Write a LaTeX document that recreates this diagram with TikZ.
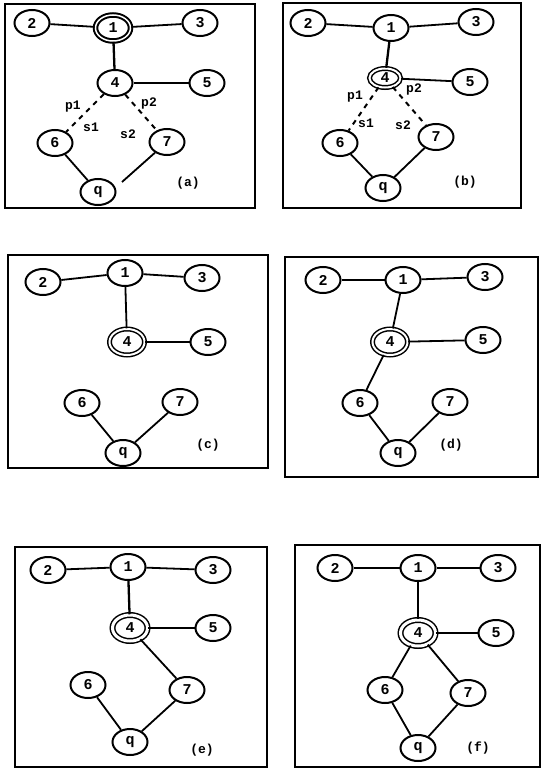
\documentclass[tikz,border=0pt]{standalone}
\usepackage{fontspec}
\setmonofont{Liberation Mono}
\usetikzlibrary{shapes.geometric}
\begin{document}
\begin{tikzpicture}[x=1pt,y=-1pt,
  nd/.style={ellipse, draw, line width=2pt, minimum width=35pt, minimum height=26pt, inner sep=0pt, font=\ttfamily\bfseries\fontsize{15}{15}\selectfont},
  dbl/.style={nd, double, double distance=2pt, line width=1.5pt},
  ed/.style={line width=1.8pt},
  dsh/.style={line width=2pt, dash pattern=on 5pt off 5pt},
  frame/.style={line width=2.8pt},
  lab/.style={font=\ttfamily\bfseries\fontsize{13}{13}\selectfont, inner sep=1pt}]
\useasboundingbox (0,0) rectangle (546,770);
% ---------- (a)
\draw[frame] (5,4) rectangle (255,208);
\node[nd] (a2) at (32,23) {2};
\node[dbl, double distance=1.5pt, line width=2pt] (a1) at (113,28) {1};
\node[nd] (a3) at (200,23) {3};
\node[nd] (a4) at (115,83) {4};
\node[nd] (a5) at (207,83) {5};
\node[nd] (a6) at (55,143) {6};
\node[nd] (a7) at (167,142) {7};
\node[nd] (a9) at (98,192) {q};
\coordinate (a9e) at (122,182);
\node[lab] (al) at (188,183) {(a)};
\node[lab] (ap1) at (73,107) {p1};
\node[lab] (as1) at (91,127) {s1};
\node[lab] (ap2) at (149,104) {p2};
\node[lab] (as2) at (128,134) {s2};
\draw[ed] (a2) -- (a1);
\draw[ed] (a1) -- (a3);
\draw[ed, line width=2.3pt] (a1) -- (a4);
\draw[ed] (a4) -- (a5);
\draw[dsh] (a4) -- (a6);
\draw[dsh] (a4) -- (a7);
\draw[ed] (a6) -- (a9);
\draw[ed] (a7) -- (a9e);
% ---------- (b)
\draw[frame] (283,3) rectangle (521,208);
\node[nd] (b2) at (308,23) {2};
\node[nd] (b1) at (391,28) {1};
\node[nd] (b3) at (476,22) {3};
\node[dbl, minimum width=31pt, minimum height=19pt] (b4) at (385,78) {4};
\node[nd] (b5) at (470,82) {5};
\node[nd] (b6) at (340,143) {6};
\node[nd] (b7) at (436,137) {7};
\node[nd] (b9) at (383,188) {q};
\node[lab] (bl) at (465,182) {(b)};
\node[lab] (bp1) at (355,97) {p1};
\node[lab] (bs1) at (366,123) {s1};
\node[lab] (bp2) at (414,90) {p2};
\node[lab] (bs2) at (403,125) {s2};
\draw[ed] (b2) -- (b1);
\draw[ed] (b1) -- (b3);
\draw[ed, line width=2.3pt] (b1) -- (b4);
\draw[ed] (b4) -- (b5);
\draw[dsh] (b4) -- (b6);
\draw[dsh] (b4) -- (b7);
\draw[ed] (b6) -- (b9);
\draw[ed] (b7) -- (b9);
% ---------- (c)
\draw[frame] (8,255) rectangle (268,468);
\node[nd] (c2) at (43,282) {2};
\node[nd] (c1) at (125,273) {1};
\node[nd] (c3) at (202,278) {3};
\node[dbl] (c4) at (127,342) {4};
\node[nd] (c5) at (208,342) {5};
\node[nd] (c6) at (82,403) {6};
\node[nd] (c7) at (180,402) {7};
\node[nd] (c9) at (123,453) {q};
\node[lab] (cl) at (208,445) {(c)};
\draw[ed] (c2) -- (c1);
\draw[ed] (c1) -- (c3);
\draw[ed] (c1) -- (c4);
\draw[ed] (c4) -- (c5);
\draw[ed] (c6) -- (c9);
\draw[ed] (c7) -- (c9);
% ---------- (d)
\draw[frame] (285,257) rectangle (538,477);
\node[nd] (d2) at (323,280) {2};
\node[nd] (d1) at (403,280) {1};
\node[nd] (d3) at (485,277) {3};
\node[dbl] (d4) at (390,342) {4};
\node[nd] (d5) at (483,340) {5};
\node[nd] (d6) at (360,403) {6};
\node[nd] (d7) at (450,402) {7};
\node[nd] (d9) at (398,453) {q};
\node[lab] (dl) at (451,445) {(d)};
\draw[ed] (d2) -- (d1);
\draw[ed] (d1) -- (d3);
\draw[ed] (d1) -- (d4);
\draw[ed] (d4) -- (d5);
\draw[ed] (d4) -- (d6);
\draw[ed] (d6) -- (d9);
\draw[ed] (d9) -- (d7);
% ---------- (e)
\draw[frame] (15,547) rectangle (267,767);
\node[nd] (e2) at (48,570) {2};
\node[nd] (e1) at (128,567) {1};
\node[nd] (e3) at (213,570) {3};
\node[dbl, double distance=3pt] (e4) at (130,628) {4};
\node[nd] (e5) at (213,628) {5};
\node[nd] (e6) at (88,685) {6};
\node[nd] (e7) at (187,690) {7};
\node[nd] (e9) at (130,742) {q};
\node[lab] (el) at (202,750) {(e)};
\draw[ed] (e2) -- (e1);
\draw[ed] (e1) -- (e3);
\draw[ed, line width=2.3pt] (e1) -- (e4);
\draw[ed] (e4) -- (e5);
\draw[ed] (e4) -- (e7);
\draw[ed] (e6) -- (e9);
\draw[ed] (e9) -- (e7);
% ---------- (f)
\draw[frame] (295,545) rectangle (540,767);
\node[nd] (f2) at (335,568) {2};
\node[nd] (f1) at (418,568) {1};
\node[nd] (f3) at (498,568) {3};
\node[dbl, double distance=3pt] (f4) at (418,633) {4};
\node[nd] (f5) at (496,633) {5};
\node[nd] (f6) at (385,690) {6};
\node[nd] (f7) at (468,693) {7};
\node[nd] (f9) at (418,748) {q};
\node[lab] (fl) at (478,748) {(f)};
\draw[ed] (f2) -- (f1);
\draw[ed] (f1) -- (f3);
\draw[ed, line width=2.3pt] (f1) -- (f4);
\draw[ed] (f4) -- (f5);
\draw[ed] (f4) -- (f6);
\draw[ed] (f4) -- (f7);
\draw[ed] (f6) -- (f9);
\draw[ed] (f7) -- (f9);
\end{tikzpicture}
\end{document}
